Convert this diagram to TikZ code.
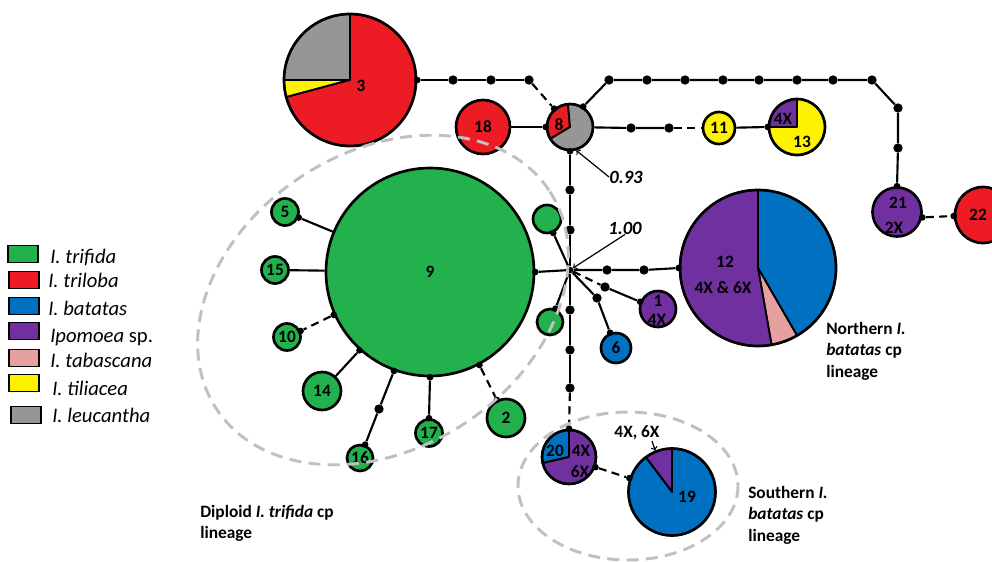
\documentclass[tikz,border=0pt]{standalone}
\usepackage{fontspec}
\setmainfont{Carlito}
\usepackage{xcolor}
\usepackage{tikz}

\definecolor{tgreen}{RGB}{34,177,76}
\definecolor{tred}{RGB}{237,28,36}
\definecolor{tblue}{RGB}{0,112,192}
\definecolor{tpurple}{RGB}{112,48,160}
\definecolor{tpink}{RGB}{230,160,160}
\definecolor{tyellow}{RGB}{255,242,0}
\definecolor{tgray}{RGB}{150,150,150}
\definecolor{tring}{RGB}{192,192,192}

\tikzset{
    hap/.style={shape=circle,draw=black,line width=2pt,inner sep=0pt,font=\bfseries\fontsize{13}{14}\selectfont},
    hsize/.style={minimum size=#1*1.5pt},
    median/.style={shape=circle,fill=black,inner sep=0pt,minimum size=7pt},
    joint/.style={shape=circle,fill=black,inner sep=0pt,minimum size=5pt},
    link/.style={line width=1.6pt},
    jump/.style={line width=1.6pt,dash pattern=on 6pt off 4pt},
    cluster/.style={draw=tring,line width=2.2pt,dash pattern=on 9pt off 5.5pt},
    lab/.style={inner sep=0pt,font=\bfseries\fontsize{13}{14}\selectfont},
    support/.style={inner sep=0pt,font=\bfseries\itshape\fontsize{14}{16}\selectfont},
    pointer/.style={->,line width=0.9pt},
    swatch/.style={shape=rectangle,draw=black,line width=1.1pt,minimum width=22.5pt,minimum height=12.75pt,inner sep=0pt},
    keytext/.style={anchor=base west,inner sep=0pt,font=\fontsize{15.5}{18}\selectfont},
    lineage/.style={anchor=north west,align=left,inner sep=0pt,font=\bfseries\fontsize{13}{16}\selectfont}
}

\newcommand{\hapslice}[5]{%
    \filldraw[fill=#5,draw=black,line width=1.4pt,line join=round] (#1) -- ++({-(#3)}:#2) arc[start angle={-(#3)},end angle={-(#4)},radius=#2] -- cycle;
}

\begin{document}
\begin{tikzpicture}[x=0.75pt,y=-0.75pt]
    \useasboundingbox (0,0) rectangle (992,561);

    % pie haplotypes
    \coordinate (c3) at (350,80);
    \hapslice{c3}{66}{90}{180}{tgray}
    \hapslice{c3}{66}{180}{195}{tyellow}
    \hapslice{c3}{66}{195}{450}{tred}
    \node[hap,hsize=66] (h3) at (c3) {};
    \node[lab] (l3) at (361,86) {3};

    \coordinate (c8) at (570,127);
    \hapslice{c8}{23}{95}{211}{tred}
    \hapslice{c8}{23}{211}{455}{tgray}
    \node[hap,hsize=23] (h8) at (c8) {};
    \node[lab] (l8) at (559,125) {8};

    \coordinate (c13) at (797,127);
    \hapslice{c13}{28}{90}{180}{tpurple}
    \hapslice{c13}{28}{180}{450}{tyellow}
    \node[hap,hsize=28] (h13) at (c13) {};
    \node[lab] (l13a) at (783,119) {4X};
    \node[lab] (l13b) at (802,142) {13};

    \coordinate (c12) at (758,268);
    \hapslice{c12}{78}{-60}{90}{tblue}
    \hapslice{c12}{78}{-80}{-60}{tpink}
    \hapslice{c12}{78}{90}{280}{tpurple}
    \node[hap,hsize=78] (h12) at (c12) {};
    \node[lab] (l12a) at (725,262) {12};
    \node[lab] (l12b) at (723,288) {4X \& 6X};

    \coordinate (c20) at (569,457);
    \hapslice{c20}{27}{90}{193}{tblue}
    \hapslice{c20}{27}{193}{450}{tpurple}
    \node[hap,hsize=27] (h20) at (c20) {};
    \node[lab] (l20a) at (555,451) {20};
    \node[lab] (l20b) at (581,451) {4X};
    \node[lab] (l20c) at (580,472) {6X};

    \coordinate (c19) at (672,492);
    \hapslice{c19}{43.5}{90}{127}{tpurple}
    \hapslice{c19}{43.5}{127}{450}{tblue}
    \node[hap,hsize=43.5] (h19) at (c19) {};
    \node[lab] (l19) at (687,497) {19};
    \node[lab] (l19x) at (637,433) {4X, 6X};

    % plain haplotypes
    \node[hap,hsize=27,fill=tred] (h18) at (483,127) {18};
    \node[hap,hsize=16,fill=tyellow] (h11) at (719,128) {11};
    \node[hap,hsize=24.5,fill=tpurple] (h21) at (897,212) {};
    \node[lab] (l21a) at (898,203) {21};
    \node[lab] (l21b) at (894,228) {2X};
    \node[hap,hsize=28,fill=tred] (h22) at (983,215) {};
    \node[lab] (l22) at (978,215) {22};
    \node[hap,hsize=104,fill=tgreen] (h9) at (430,272) {9};
    \node[hap,hsize=14,fill=tgreen] (ga) at (547,219) {};
    \node[hap,hsize=13,fill=tgreen] (gb) at (550,322) {};
    \node[hap,hsize=18,fill=tpurple] (h1) at (658,309) {};
    \node[lab] (l1a) at (658,301) {1};
    \node[lab] (l1b) at (657,320) {4X};
    \node[hap,hsize=15,fill=tblue] (h6) at (616,348) {6};
    \node[hap,hsize=13.5,fill=tgreen] (h5) at (285,212) {5};
    \node[hap,hsize=13.5,fill=tgreen] (h15) at (275,270) {15};
    \node[hap,hsize=13.5,fill=tgreen] (h10) at (287,337) {10};
    \node[hap,hsize=19,fill=tgreen] (h14) at (322,391) {14};
    \node[hap,hsize=13,fill=tgreen] (h16) at (360,458) {16};
    \node[hap,hsize=13.5,fill=tgreen] (h17) at (429,433) {17};
    \node[hap,hsize=19,fill=tgreen] (h2) at (506,418) {2};

    % median vectors
    \node[joint] (t3) at (h3.0) {};
    \node[median] (a1) at (453,80) {};
    \node[median] (a2) at (491,80) {};
    \node[median] (a3) at (529,80) {};
    \node[joint] (t8a) at (h8.131) {};
    \node[joint] (t8l) at (h8.180) {};
    \node[joint] (t8u) at (h8.57) {};
    \node[joint] (t8b) at (h8.-90) {};
    \node[median] (b1) at (609,80) {};
    \node[median] (b2) at (647,80) {};
    \node[median] (b3) at (685,80) {};
    \node[median] (b4) at (723,80) {};
    \node[median] (b5) at (759,80) {};
    \node[median] (b6) at (797,80) {};
    \node[median] (b7) at (833,80) {};
    \node[median] (b8) at (872,80) {};
    \node[median] (b9) at (898,108) {};
    \node[median] (b10) at (898,148) {};
    \node[joint] (t21n) at (h21.90) {};
    \node[joint] (t21e) at (h21.-12) {};
    \node[joint] (t22w) at (h22.182) {};
    \node[median] (m1) at (631,128) {};
    \node[median] (m2) at (669,128) {};
    \node[joint] (t13w) at (h13.180) {};
    \node[median] (v1) at (570,190) {};
    \node[median] (v2) at (570,230) {};
    \node[joint] (hub) at (570,270) {};
    \node[median] (v3) at (570,310) {};
    \node[median] (v4) at (570,350) {};
    \node[median] (v5) at (570,388) {};
    \node[joint] (t20n) at (h20.90) {};
    \node[joint] (t20e) at (h20.-21) {};
    \node[joint] (t19w) at (h19.162) {};
    \node[median] (r1) at (607,270) {};
    \node[median] (r2) at (644,270) {};
    \node[joint] (t12w) at (h12.180) {};
    \node[joint] (tga) at (ga.-66) {};
    \node[joint] (tgb) at (gb.68) {};
    \node[median] (p1) at (605,287) {};
    \node[joint] (t1) at (h1.158) {};
    \node[median] (s1) at (597,298) {};
    \node[joint] (t6) at (h6.111) {};
    \node[joint] (t9e) at (h9.0) {};
    \node[joint] (t5) at (h5.-22) {};
    \node[joint] (t9a) at (h9.204) {};
    \node[joint] (t10) at (h10.24) {};
    \node[joint] (t9b) at (h9.228) {};
    \node[joint] (t9c) at (h9.250) {};
    \node[median] (q1) at (379,409) {};
    \node[joint] (t16) at (h16.69) {};
    \node[joint] (t9d) at (h9.270) {};
    \node[joint] (t17) at (h17.90) {};
    \node[joint] (t9f) at (h9.-62) {};
    \node[joint] (t2) at (h2.117) {};

    % mutational steps
    \draw[link] (t3) -- (a1) -- (a2) -- (a3);
    \draw[jump] (a3) -- (t8a);
    \draw[link] (h18) -- (t8l);
    \draw[link] (t8u) -- (b1) -- (b2) -- (b3) -- (b4) -- (b5) -- (b6) -- (b7) -- (b8) -- (b9) -- (b10) -- (t21n);
    \draw[jump] (t21e) -- (t22w);
    \draw[link] (h8) -- (m1) -- (m2);
    \draw[jump] (m2) -- (h11);
    \draw[link] (h11) -- (t13w);
    \draw[link] (t8b) -- (v1) -- (v2) -- (hub) -- (v3) -- (v4) -- (v5);
    \draw[jump] (v5) -- (t20n);
    \draw[jump] (t20e) -- (t19w);
    \draw[link] (hub) -- (t9e);
    \draw[link] (hub) -- (r1) -- (r2) -- (t12w);
    \draw[link] (hub) -- (tga);
    \draw[link] (hub) -- (tgb);
    \draw[jump] (hub) -- (p1);
    \draw[link] (p1) -- (t1);
    \draw[link] (hub) -- (s1) -- (t6);
    \draw[link] (h9) -- (t5);
    \draw[link] (h9) -- (h15);
    \draw[jump] (t9a) -- (t10);
    \draw[link] (t9b) -- (h14);
    \draw[link] (t9c) -- (q1) -- (t16);
    \draw[link] (t9d) -- (t17);
    \draw[jump] (t9f) -- (t2);

    % support values
    \node[support] (s093) at (626,177) {0.93};
    \draw[pointer] (s093.west) -- (h8.-75);
    \node[support] (s100) at (625,228) {1.00};
    \draw[pointer] (s100.south) -- (hub);
    \coordinate (a19) at (652,441);
    \draw[pointer] (a19) -- (h19.112);

    % lineages
    \draw[cluster,rotate around={33:(383,300)}] (383,300) ellipse [x radius=199,y radius=148];
    \draw[cluster] (628,486) ellipse [x radius=110,y radius=74];
    \node[lineage] (north) at (826,322) {Northern \textit{I.}\\\textit{batatas} cp\\lineage};
    \node[lineage] (south) at (748,486) {Southern \textit{I.}\\\textit{batatas} cp\\lineage};
    \node[lineage] (diploid) at (200,505) {Diploid \textit{I. trifida} cp\\lineage};

    % legend
    \node[swatch,fill=tgreen] (k1) at (23,254) {};
    \node[swatch,fill=tred] (k2) at (24,280) {};
    \node[swatch,fill=tblue] (k3) at (24,306) {};
    \node[swatch,fill=tpurple] (k4) at (24,331) {};
    \node[swatch,fill=tpink] (k5) at (24,358) {};
    \node[swatch,fill=tyellow] (k6) at (24,383) {};
    \node[swatch,fill=tgray] (k7) at (26,415) {};
    \node[keytext] (n1) at (50,263) {\itshape I. trifida};
    \node[keytext] (n2) at (48,287) {\itshape I. triloba};
    \node[keytext] (n3) at (48,315) {\itshape I. batatas};
    \node[keytext] (n4) at (50,342) {\textit{Ipomoea} sp.};
    \node[keytext] (n5) at (50,367) {\itshape I. tabascana};
    \node[keytext] (n6) at (52,395) {\itshape I. tiliacea};
    \node[keytext] (n7) at (52,422) {\itshape I. leucantha};
\end{tikzpicture}
\end{document}
